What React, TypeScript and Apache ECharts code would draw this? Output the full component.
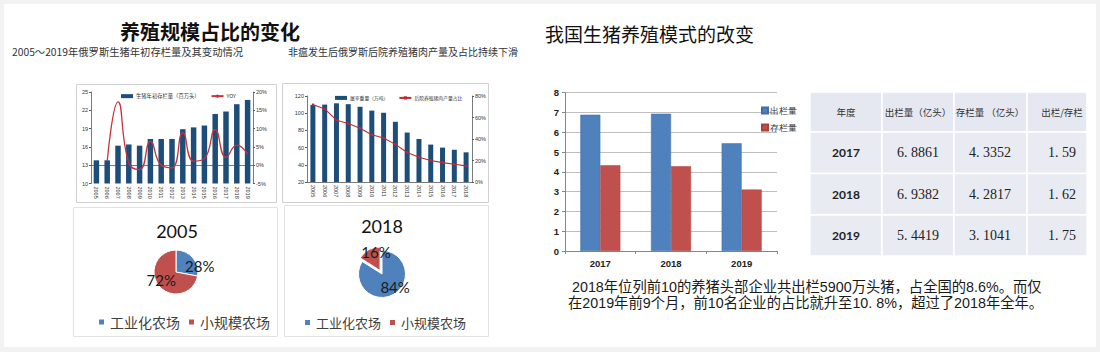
import React, { useEffect, useRef } from "react";
import * as echarts from "echarts";

// ---------- data ----------
const ruYears1 = ["2005","2006","2007","2008","2009","2010","2011","2012","2013","2014","2015","2016","2017","2018","2019"];
const ruStock = [13.8, 13.8, 16.2, 16.4, 16.2, 17.3, 17.3, 17.3, 18.9, 19.2, 19.5, 21.4, 21.8, 23.0, 23.7];
const ruYoy: (number | string)[] = ["-", 1.0, 17.3, 0.6, -1.2, 6.5, 0.0, -0.7, 8.9, 1.1, 1.8, 9.7, 2.1, 5.5, 3.0];

const ruYears2 = ["2005","2006","2007","2008","2009","2010","2011","2012","2013","2014","2015","2016","2017","2018"];
const ruSlaughter = [109.5, 110, 111.5, 110.5, 107.5, 103, 100.5, 90, 77.5, 70, 63.5, 60, 57.5, 54.5];
const ruBackyardShare = [72, 68, 57.5, 54.5, 50, 44, 41, 35, 27.5, 23, 20, 18, 16.5, 15];

const pieNames = ["工业化农场", "小规模农场"];
const pie2005 = [28, 72];
const pie2018 = [84, 16];

const cnYears = ["2017", "2018", "2019"];
const cnOut = [6.8861, 6.9382, 5.4419];
const cnStock = [4.3352, 4.2817, 3.1041];
const cnRatio = [1.59, 1.62, 1.75];
const tableHeader = ["年度", "出栏量（亿头）", "存栏量 （亿头）", "出栏/存栏"];

const CJK = "'Noto Sans CJK SC', sans-serif";
const ARIAL = "'Liberation Sans', Arial, 'Noto Sans CJK SC', sans-serif";
const SERIF = "'Liberation Serif', 'DejaVu Serif', serif";
const LATO = "Lato, 'Open Sans', sans-serif";

const fmt = (v: number, d: number) => v.toFixed(d).replace(".", ". ");

export default function App() {
  const ref = useRef<HTMLDivElement>(null);
  useEffect(() => {
    if (!ref.current) return;
    const chart = echarts.init(ref.current, null, { renderer: "svg" });

    const smallAxisLabel = { fontSize: 5.5, color: "#333", fontFamily: ARIAL, margin: 3 };
    const smallAxisLine = { show: true, lineStyle: { color: "#595959", width: 0.8 } };

    // table graphics
    const colX = [810, 882, 954, 1027, 1087];
    const rowY = [92, 132, 173.5, 215, 256];
    const table: any[] = [];
    for (let r = 0; r < 4; r++) {
      for (let c = 0; c < 4; c++) {
        table.push({
          type: "rect",
          shape: { x: colX[c], y: rowY[r], width: colX[c + 1] - colX[c], height: rowY[r + 1] - rowY[r] },
          style: { fill: r === 0 ? "#e6e8f1" : "#e9ebf3", stroke: "#ffffff", lineWidth: 1.5 },
          z: 1,
        });
      }
    }
    const colC = [846, 918, 990, 1062];
    tableHeader.forEach((h, i) => {
      table.push({
        type: "text", x: colC[i], y: (rowY[0] + rowY[1]) / 2, z: 5,
        style: { text: h, fill: "#333", font: `9.5px ${CJK}`, textAlign: "center", textVerticalAlign: "middle" },
      });
    });
    cnYears.forEach((y, r) => {
      const cy = (rowY[r + 1] + rowY[r + 2]) / 2;
      const vals = [y, fmt(cnOut[r], 4), fmt(cnStock[r], 4), fmt(cnRatio[r], 2)];
      vals.forEach((v, c) => {
        table.push({
          type: "text", x: colC[c], y: cy, z: 5,
          style: {
            text: v, fill: "#222",
            font: c === 0 ? `bold 12px ${LATO}` : `14px ${SERIF}`,
            textAlign: "center", textVerticalAlign: "middle",
          },
        });
      });
    });

    const pie1Shift = [[13, 3], [-4, -1]];
    const pie2Shift = [[6, 0], [3, -6]];

    const option: any = {
      animation: false,
      backgroundColor: "#f2f2f2",
      graphic: [
        { type: "rect", z: 0, shape: { x: 4, y: 4, width: 1092, height: 343 }, style: { fill: "#ffffff" } },
        { type: "rect", z: 1, shape: { x: 76.5, y: 84.5, width: 200, height: 118 }, style: { fill: "none", stroke: "#d0d0d0", lineWidth: 1 } },
        { type: "rect", z: 1, shape: { x: 282.5, y: 83.5, width: 206, height: 119 }, style: { fill: "none", stroke: "#d0d0d0", lineWidth: 1 } },
        { type: "rect", z: 1, shape: { x: 73.5, y: 207.5, width: 204, height: 129 }, style: { fill: "none", stroke: "#e2e2e2", lineWidth: 1 } },
        { type: "rect", z: 1, shape: { x: 284.5, y: 205.5, width: 204, height: 131 }, style: { fill: "none", stroke: "#e2e2e2", lineWidth: 1 } },
        { type: "text", x: 210, y: 31.5, z: 5, style: { text: "养殖规模占比的变化", fill: "#111", font: `bold 20px ${CJK}`, textAlign: "center", textVerticalAlign: "middle" } },
        { type: "text", x: 12, y: 51, z: 5, style: { text: "2005～2019年俄罗斯生猪年初存栏量及其变动情况", fill: "#333", font: `10.3px ${CJK}`, textVerticalAlign: "middle" } },
        { type: "text", x: 288, y: 51, z: 5, style: { text: "非瘟发生后俄罗斯后院养殖猪肉产量及占比持续下滑", fill: "#333", font: `10px ${CJK}`, textVerticalAlign: "middle" } },
        { type: "text", x: 545, y: 33, z: 5, style: { text: "我国生猪养殖模式的改变", fill: "#111", font: `19px ${CJK}`, textVerticalAlign: "middle" } },
        { type: "text", x: 177, y: 231, z: 5, style: { text: "2005", fill: "#111", font: `18px ${LATO}`, textAlign: "center", textVerticalAlign: "middle" } },
        { type: "text", x: 382, y: 226, z: 5, style: { text: "2018", fill: "#111", font: `18px ${LATO}`, textAlign: "center", textVerticalAlign: "middle" } },
        { type: "text", x: 572, y: 287, z: 5, style: { text: "2018年位列前10的养猪头部企业共出栏5900万头猪，占全国的8.6%。而仅", fill: "#1a1a1a", font: `14.3px ${ARIAL}`, textVerticalAlign: "middle" } },
        { type: "text", x: 568, y: 303, z: 5, style: { text: "在2019年前9个月，前10名企业的占比就升至10. 8%，超过了2018年全年。", fill: "#1a1a1a", font: `14.3px ${ARIAL}`, textVerticalAlign: "middle" } },
        ...table,
      ],
      legend: [
        {
          data: [{ name: "生猪年初存栏量（百万头）", icon: "rect" }, { name: "YOY" }],
          left: 116, top: 88.5, itemWidth: 12, itemHeight: 4, itemGap: 11,
          textStyle: { fontSize: 5.3, color: "#333", fontFamily: CJK, padding: [0, 0, 0, -2] },
        },
        {
          data: [{ name: "屠宰重量（万吨）", icon: "rect" }, { name: "后院养殖猪肉产量占比" }],
          left: 330, top: 90.5, itemWidth: 12, itemHeight: 4, itemGap: 10,
          textStyle: { fontSize: 4.8, color: "#333", fontFamily: CJK, padding: [0, 0, 0, -2] },
        },
        {
          data: ["出栏量", "存栏量"], icon: "rect", left: 756, top: 101, orient: "vertical", itemWidth: 6, itemHeight: 6, itemGap: 8,
          textStyle: { fontSize: 9, color: "#333", fontFamily: SERIF, padding: [0, 0, 0, -3] },
        },
        {
          data: pieNames, icon: "rect", left: 92, top: 310, itemWidth: 7, itemHeight: 7, itemGap: 7,
          textStyle: { fontSize: 14, color: "#404040", fontFamily: CJK },
        },
        {
          data: pieNames, icon: "rect", left: 298, top: 311, itemWidth: 7, itemHeight: 7, itemGap: 7,
          textStyle: { fontSize: 13, color: "#404040", fontFamily: CJK },
        },
      ],
      grid: [
        { left: 91, top: 92, width: 162, height: 91.5, outerBoundsMode: "none" },
        { left: 307, top: 96, width: 165, height: 86, outerBoundsMode: "none" },
        { left: 565, top: 92.7, width: 212, height: 158.3, outerBoundsMode: "none" },
      ],
      xAxis: [
        {
          type: "category", gridIndex: 0, data: ruYears1,
          axisLabel: { ...smallAxisLabel, rotate: -90, interval: 0 }, axisTick: { show: false }, axisLine: smallAxisLine,
        },
        {
          type: "category", gridIndex: 1, data: ruYears2,
          axisLabel: { ...smallAxisLabel, rotate: -90, interval: 0 }, axisTick: { show: false }, axisLine: smallAxisLine,
        },
        {
          type: "category", gridIndex: 2, data: cnYears,
          axisLabel: { fontSize: 9.5, fontWeight: "bold", color: "#222", fontFamily: ARIAL, margin: 8 },
          axisTick: { show: true, length: 3, lineStyle: { color: "#868686" } },
          axisLine: { show: true, lineStyle: { color: "#868686" } },
        },
      ],
      yAxis: [
        {
          type: "value", gridIndex: 0, min: 10, max: 25, interval: 3,
          axisLabel: smallAxisLabel, axisLine: smallAxisLine, axisTick: { show: true, length: 2 }, splitLine: { show: false },
        },
        {
          type: "value", gridIndex: 0, position: "right", min: -5, max: 20, interval: 5,
          axisLabel: { ...smallAxisLabel, formatter: "{value}%" }, axisLine: smallAxisLine, axisTick: { show: true, length: 2 }, splitLine: { show: false },
        },
        {
          type: "value", gridIndex: 1, min: 20, max: 120, interval: 20,
          axisLabel: smallAxisLabel, axisLine: smallAxisLine, axisTick: { show: true, length: 2 }, splitLine: { show: false },
        },
        {
          type: "value", gridIndex: 1, position: "right", min: 0, max: 80, interval: 20,
          axisLabel: { ...smallAxisLabel, formatter: "{value}%" }, axisLine: smallAxisLine, axisTick: { show: true, length: 2 }, splitLine: { show: false },
        },
        {
          type: "value", gridIndex: 2, min: 0, max: 8, interval: 1,
          axisLabel: { fontSize: 9.5, fontWeight: "bold", color: "#222", fontFamily: ARIAL, margin: 6 },
          axisLine: { show: true, lineStyle: { color: "#868686" } },
          axisTick: { show: true, length: 3, lineStyle: { color: "#868686" } },
          splitLine: { show: true, lineStyle: { color: "#bfbfbf", width: 1 } },
        },
      ],
      series: [
        {
          type: "bar", name: "生猪年初存栏量（百万头）", xAxisIndex: 0, yAxisIndex: 0, data: ruStock,
          barWidth: 5.5, itemStyle: { color: "#1d4e79" },
        },
        {
          type: "line", name: "YOY", xAxisIndex: 0, yAxisIndex: 1, data: ruYoy, smooth: 0.5,
          symbol: "none", itemStyle: { color: "#c8323a" }, lineStyle: { color: "#c8323a", width: 1.3 }, z: 3,
        },
        {
          type: "bar", name: "屠宰重量（万吨）", xAxisIndex: 1, yAxisIndex: 2, data: ruSlaughter,
          barWidth: 5, itemStyle: { color: "#1d4e79" },
        },
        {
          type: "line", name: "后院养殖猪肉产量占比", xAxisIndex: 1, yAxisIndex: 3, data: ruBackyardShare,
          symbol: "rect", symbolSize: 2.2, showSymbol: true, itemStyle: { color: "#c0282d" },
          lineStyle: { color: "#c0282d", width: 1.1 }, z: 3,
        },
        {
          type: "bar", name: "出栏量", xAxisIndex: 2, yAxisIndex: 4, data: cnOut,
          barWidth: 20, barGap: "0%", itemStyle: { color: "#4f81bd", borderColor: "#3f6fa8", borderWidth: 0.5 },
        },
        {
          type: "bar", name: "存栏量", xAxisIndex: 2, yAxisIndex: 4, data: cnStock,
          barWidth: 20, barGap: "0%", itemStyle: { color: "#c0504d", borderColor: "#a9403d", borderWidth: 0.5 },
        },
        {
          type: "pie", center: [176, 272], radius: 22, startAngle: 90, clockwise: true,
          data: pieNames.map((n, i) => ({ name: n, value: pie2005[i], itemStyle: { color: i === 0 ? "#4f81bd" : "#c0504d" } })),
          itemStyle: { borderColor: "#ffffff", borderWidth: 1 },
          label: { show: true, position: "inside", formatter: "{c}%", fontSize: 15, color: "#1a1a1a", fontFamily: LATO },
          labelLine: { show: false },
          labelLayout: (p: any) => ({ dx: pie1Shift[p.dataIndex][0], dy: pie1Shift[p.dataIndex][1] }),
          emphasis: { disabled: true },
        },
        {
          type: "pie", center: [382, 274], radius: 23.5, startAngle: 90, clockwise: true,
          selectedMode: "single", selectedOffset: 4,
          data: pieNames.map((n, i) => ({
            name: n, value: pie2018[i], selected: i === 1,
            itemStyle: { color: i === 0 ? "#4f81bd" : "#c0504d" },
          })),
          itemStyle: { borderColor: "#ffffff", borderWidth: 1 },
          label: { show: true, position: "inside", formatter: "{c}%", fontSize: 15, color: "#1a1a1a", fontFamily: LATO },
          labelLine: { show: false },
          labelLayout: (p: any) => ({ dx: pie2Shift[p.dataIndex][0], dy: pie2Shift[p.dataIndex][1] }),
          emphasis: { disabled: true },
        },
      ],
    };
    chart.setOption(option);
    return () => chart.dispose();
  }, []);
  return <div ref={ref} style={{ position: "absolute", left: 0, top: 0, width: 1100, height: 352 }} />;
}
